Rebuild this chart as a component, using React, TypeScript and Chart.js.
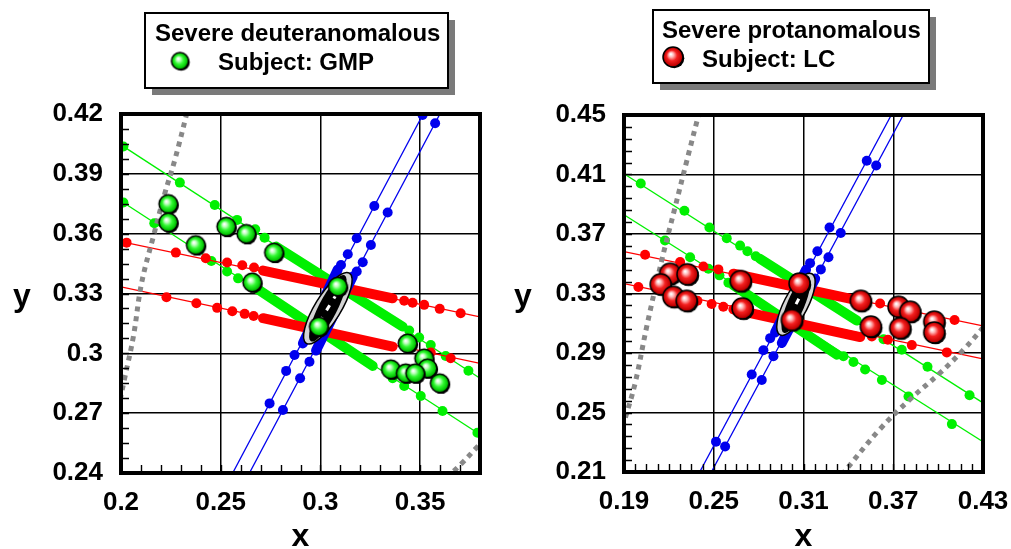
import React, { useEffect, useRef } from "react";
import { Chart, registerables } from "chart.js";

Chart.register(...registerables);

type P = [number, number];
const FONT = "'Liberation Sans', Arial, Helvetica, sans-serif";

// ================= LEFT PANEL: Severe deuteranomalous, Subject GMP =================
const L_xRange: P = [0.2, 0.38];
const L_yRange: P = [0.24, 0.42];
const L_xTicks = [0.2, 0.25, 0.3, 0.35];
const L_xLabels = ["0.2", "0.25", "0.3", "0.35"];
const L_yTicks = [0.24, 0.27, 0.3, 0.33, 0.36, 0.39, 0.42];
const L_yLabels = ["0.24", "0.27", "0.3", "0.33", "0.36", "0.39", "0.42"];

const L_subjectGMP: P[] = [
  [0.2237, 0.3749], [0.2237, 0.3657], [0.2375, 0.3543], [0.2528, 0.3635],
  [0.2628, 0.3599], [0.2767, 0.3505], [0.2658, 0.3356], [0.3087, 0.3335],
  [0.2992, 0.3134], [0.3437, 0.305], [0.352, 0.2975], [0.3537, 0.2925],
  [0.3353, 0.292], [0.3428, 0.29], [0.3475, 0.29], [0.3598, 0.285],
];

const L_deutan1Line: P[] = [[0.2, 0.4045], [0.38, 0.2875]];
const L_deutan1Band: P[] = [[0.2778, 0.3535], [0.3412, 0.3134]];
const L_deutan1Dots: P[] = [
  [0.2012, 0.4037], [0.2295, 0.3856], [0.247, 0.3744], [0.2582, 0.3669], [0.2673, 0.3622],
  [0.272, 0.358], [0.3445, 0.3114], [0.3495, 0.3079], [0.3553, 0.3042], [0.3628, 0.2987], [0.3742, 0.2913],
];
const L_deutan2Line: P[] = [[0.2, 0.3764], [0.38, 0.2593]];
const L_deutan2Band: P[] = [[0.2653, 0.3343], [0.3262, 0.2937]];
const L_deutan2Dots: P[] = [
  [0.2012, 0.3756], [0.2167, 0.3652], [0.2453, 0.3463], [0.2532, 0.341], [0.2587, 0.3376],
  [0.3362, 0.2875], [0.342, 0.2836], [0.3503, 0.2786], [0.3612, 0.2711], [0.3787, 0.2602],
];

const L_protan1Line: P[] = [[0.2, 0.356], [0.38, 0.3183]];
const L_protan1Band: P[] = [[0.2712, 0.3415], [0.3362, 0.3276]];
const L_protan1Dots: P[] = [
  [0.2028, 0.3555], [0.2275, 0.3505], [0.2425, 0.3477], [0.2532, 0.3455], [0.2608, 0.3442],
  [0.2667, 0.343], [0.342, 0.3264], [0.3462, 0.3254], [0.352, 0.3243], [0.3598, 0.3223], [0.3703, 0.3201],
];
const L_protan2Line: P[] = [[0.2, 0.3333], [0.38, 0.295]];
const L_protan2Band: P[] = [[0.2712, 0.3176], [0.3362, 0.3034]];
const L_protan2Dots: P[] = [
  [0.2228, 0.3281], [0.2378, 0.3251], [0.2482, 0.3228], [0.2558, 0.3211], [0.262, 0.3198],
  [0.2665, 0.3187], [0.3553, 0.3004], [0.3653, 0.2975],
];

const L_tritan1Line: P[] = [[0.256, 0.24], [0.3515, 0.42]];
const L_tritan1Band: P[] = [[0.3087, 0.3421], [0.2912, 0.305]];
const L_tritan1Dots: P[] = [
  [0.3512, 0.4195], [0.327, 0.3739], [0.3182, 0.3577], [0.3137, 0.3497], [0.3103, 0.3443],
  [0.287, 0.2992], [0.2828, 0.2912], [0.2745, 0.2749],
];
const L_tritan2Line: P[] = [[0.2644, 0.24], [0.3599, 0.42]];
const L_tritan2Band: P[] = [[0.3162, 0.3385], [0.2978, 0.3014]];
const L_tritan2Dots: P[] = [
  [0.3575, 0.4154], [0.3337, 0.3706], [0.3253, 0.3543], [0.3212, 0.3457], [0.3182, 0.341],
  [0.2945, 0.2958], [0.2898, 0.2875], [0.2812, 0.2716],
];

const L_boundaryA: P[] = [
  [0.2343, 0.4255], [0.227, 0.397], [0.222, 0.3803], [0.2162, 0.3585], [0.2103, 0.3351],
  [0.2062, 0.3084], [0.202, 0.2883], [0.1996, 0.277],
];
const L_boundaryB: P[] = [[0.3632, 0.2375], [0.3715, 0.2455], [0.3787, 0.2532], [0.3825, 0.257]];
const L_ellipseAxis: P[] = [[0.2929, 0.305], [0.3145, 0.3402]];

// ================= RIGHT PANEL: Severe protanomalous, Subject LC =================
const R_xRange: P = [0.19, 0.43];
const R_yRange: P = [0.21, 0.45];
const R_xTicks = [0.19, 0.25, 0.31, 0.37, 0.43];
const R_xLabels = ["0.19", "0.25", "0.31", "0.37", "0.43"];
const R_yTicks = [0.21, 0.25, 0.29, 0.33, 0.37, 0.41, 0.45];
const R_yLabels = ["0.21", "0.25", "0.29", "0.33", "0.37", "0.41", "0.45"];

const R_subjectLC: P[] = [
  [0.2208, 0.3433], [0.2324, 0.3429], [0.2145, 0.3362], [0.223, 0.3278], [0.2319, 0.3251],
  [0.268, 0.3384], [0.2692, 0.32], [0.3073, 0.3367], [0.3022, 0.3122], [0.3483, 0.3251],
  [0.355, 0.3078], [0.3735, 0.3211], [0.3813, 0.3178], [0.3746, 0.3067], [0.3974, 0.3111],
  [0.3974, 0.3038],
];

const R_deutan1Line: P[] = [[0.19, 0.4105], [0.43, 0.2565]];
const R_deutan1Band: P[] = [[0.281, 0.3533], [0.3456, 0.3118]];
const R_deutan1Dots: P[] = [
  [0.2012, 0.404], [0.2304, 0.3856], [0.2471, 0.3744], [0.2587, 0.3671], [0.2676, 0.3622],
  [0.2725, 0.3584], [0.2781, 0.3551], [0.3635, 0.2993], [0.3757, 0.2922], [0.3929, 0.2807], [0.421, 0.2616],
];
const R_deutan2Line: P[] = [[0.19, 0.3829], [0.43, 0.2303]];
const R_deutan2Band: P[] = [[0.2631, 0.3356], [0.3323, 0.2889]];
const R_deutan2Dots: P[] = [
  [0.2174, 0.3656], [0.2342, 0.3544], [0.2464, 0.3467], [0.2538, 0.3422], [0.2598, 0.3373],
  [0.3367, 0.2878], [0.3434, 0.284], [0.3512, 0.2789], [0.3624, 0.2718], [0.3802, 0.2607], [0.4092, 0.2422],
];

const R_protan1Line: P[] = [[0.19, 0.3582], [0.43, 0.3082]];
const R_protan1Band: P[] = [[0.2631, 0.3433], [0.3456, 0.3256]];
const R_protan1Dots: P[] = [
  [0.2041, 0.356], [0.2275, 0.3511], [0.2431, 0.3482], [0.2531, 0.3462],
  [0.3612, 0.3233], [0.3746, 0.3211], [0.411, 0.3122],
];
const R_protan2Line: P[] = [[0.19, 0.3367], [0.43, 0.286]];
const R_protan2Band: P[] = [[0.2631, 0.3193], [0.3479, 0.3007]];
const R_protan2Dots: P[] = [
  [0.1996, 0.3344], [0.2391, 0.3251], [0.2486, 0.3229], [0.2564, 0.3211],
  [0.3557, 0.3011], [0.3664, 0.2989], [0.3824, 0.2953], [0.4058, 0.2904],
];

const R_tritan1Line: P[] = [[0.2406, 0.21], [0.3687, 0.45]];
const R_tritan1Band: P[] = [[0.3117, 0.346], [0.291, 0.3038]];
const R_tritan1Dots: P[] = [
  [0.3523, 0.4193], [0.3274, 0.3744], [0.3193, 0.3584], [0.3144, 0.3504],
  [0.2877, 0.3], [0.2832, 0.2918], [0.2754, 0.2756], [0.2515, 0.2304],
];
const R_tritan2Line: P[] = [[0.2484, 0.21], [0.3767, 0.45]];
const R_tritan2Band: P[] = [[0.3178, 0.34], [0.2955, 0.2967]];
const R_tritan2Dots: P[] = [
  [0.3586, 0.416], [0.3349, 0.3707], [0.3267, 0.3544], [0.3216, 0.3462],
  [0.2899, 0.2878], [0.2821, 0.2718], [0.2576, 0.2271],
];

const R_boundaryA: P[] = [
  [0.2404, 0.4522], [0.2319, 0.4189], [0.2241, 0.3878], [0.2152, 0.3522], [0.2052, 0.3078],
  [0.1975, 0.27], [0.1905, 0.245], [0.1885, 0.238],
];
const R_boundaryB: P[] = [
  [0.3355, 0.208], [0.3612, 0.2389], [0.3813, 0.2589], [0.4014, 0.2767], [0.417, 0.2922], [0.4335, 0.311],
];
const R_ellipseAxis: P[] = [[0.2943, 0.3022], [0.3156, 0.3433]];

// ================= helpers =================
const GREEN = "#00f000";
const RED = "#ff0000";
const BLUE = "#0000ee";
const GRAY = "#888888";

const xy = (arr: P[]) => arr.map(([x, y]) => ({ x, y }));

function confusion(line: P[], band: P[], dots: P[], color: string, order: number) {
  return [
    { data: xy(line), showLine: true, borderColor: color, borderWidth: 1.3, pointRadius: 0, order, clip: 0 },
    { data: xy(band), showLine: true, borderColor: color, borderWidth: 10, borderCapStyle: "round", pointRadius: 0, order, clip: 0 },
    { data: xy(dots), showLine: false, pointRadius: 5, pointBackgroundColor: color, backgroundColor: color, pointBorderWidth: 0, borderWidth: 0, order, clip: 0 },
  ];
}

function boundary(data: P[]) {
  return { data: xy(data), showLine: true, borderColor: GRAY, borderWidth: 5, borderDash: [5, 5], tension: 0.4, pointRadius: 0, order: 1, clip: 0 };
}

function makeBall(r: number, stops: string[]) {
  const s = Math.ceil(2 * r + 6);
  const c = document.createElement("canvas");
  c.width = s;
  c.height = s;
  const g = c.getContext("2d") as CanvasRenderingContext2D;
  const cx = s / 2, cy = s / 2;
  g.beginPath();
  g.arc(cx + 1.3, cy + 1.3, r, 0, Math.PI * 2);
  g.fillStyle = "#000";
  g.fill();
  const grad = g.createRadialGradient(cx - r * 0.22, cy - r * 0.28, r * 0.05, cx, cy, r);
  grad.addColorStop(0, "#ffffff");
  grad.addColorStop(0.2, stops[0]);
  grad.addColorStop(0.5, stops[1]);
  grad.addColorStop(0.88, stops[2]);
  grad.addColorStop(1, stops[3]);
  g.beginPath();
  g.arc(cx, cy, r, 0, Math.PI * 2);
  g.fillStyle = grad;
  g.fill();
  g.lineWidth = 1.5;
  g.strokeStyle = "#000";
  g.stroke();
  return c;
}

function drawEllipse(chart: any, axis: P[], minorPx: number) {
  const { ctx } = chart;
  const xs = chart.scales.x, ys = chart.scales.y;
  const x1 = xs.getPixelForValue(axis[0][0]), y1 = ys.getPixelForValue(axis[0][1]);
  const x2 = xs.getPixelForValue(axis[1][0]), y2 = ys.getPixelForValue(axis[1][1]);
  const cx = (x1 + x2) / 2, cy = (y1 + y2) / 2;
  const a = Math.hypot(x2 - x1, y2 - y1) / 2;
  const ang = Math.atan2(y2 - y1, x2 - x1);
  ctx.save();
  ctx.beginPath();
  ctx.ellipse(cx, cy, a, minorPx, ang, 0, Math.PI * 2);
  ctx.fillStyle = "#d4d4d4";
  ctx.fill();
  ctx.lineWidth = 1.5;
  ctx.strokeStyle = "#000";
  ctx.stroke();
  ctx.beginPath();
  ctx.ellipse(cx, cy, a * 0.9, minorPx * 0.72, ang - 0.08, 0, Math.PI * 2);
  ctx.fillStyle = "#000";
  ctx.fill();
  const ux = Math.cos(ang), uy = Math.sin(ang);
  ctx.strokeStyle = "#fff";
  ctx.lineWidth = 3;
  ctx.setLineDash([6, 8]);
  ctx.beginPath();
  ctx.moveTo(cx - ux * a * 0.4, cy - uy * a * 0.4);
  ctx.lineTo(cx + ux * a * 0.4, cy + uy * a * 0.4);
  ctx.stroke();
  ctx.restore();
}

type Legend = {
  x: number; y: number; w: number; h: number;
  title: string; titleX: number; titleY: number;
  label: string; labelX: number; labelY: number;
  ballX: number; ballY: number;
};

function decorPlugin(o: {
  ballIndex: number; ellipse: P[]; ellipseMinor: number;
  xMinor: number; yMinor: number; legend: Legend; ball: HTMLCanvasElement;
  xTitleY: number; yTitleX: number; yTitleY: number;
}) {
  return {
    id: "decor",
    beforeDatasetDraw(chart: any, args: any) {
      if (args.index === o.ballIndex) drawEllipse(chart, o.ellipse, o.ellipseMinor);
    },
    afterDatasetsDraw(chart: any) {
      const { ctx, chartArea: a } = chart;
      const xs = chart.scales.x, ys = chart.scales.y;
      ctx.save();
      ctx.strokeStyle = "#000";
      ctx.lineWidth = 1.4;
      ctx.beginPath();
      const nx = Math.round((xs.max - xs.min) / o.xMinor);
      for (let i = 1; i < nx; i++) {
        const px = Math.round(xs.getPixelForValue(xs.min + i * o.xMinor)) + 0.5;
        ctx.moveTo(px, a.bottom);
        ctx.lineTo(px, a.bottom - 8);
      }
      const ny = Math.round((ys.max - ys.min) / o.yMinor);
      for (let i = 1; i < ny; i++) {
        const py = Math.round(ys.getPixelForValue(ys.min + i * o.yMinor)) + 0.5;
        ctx.moveTo(a.left, py);
        ctx.lineTo(a.left + 8, py);
      }
      ctx.stroke();
      ctx.lineWidth = 4;
      ctx.strokeRect(a.left, a.top, a.right - a.left, a.bottom - a.top);

      // axis titles
      ctx.fillStyle = "#000";
      ctx.font = `bold 32px ${FONT}`;
      ctx.textAlign = "center";
      ctx.textBaseline = "alphabetic";
      ctx.fillText("x", (a.left + a.right) / 2, o.xTitleY);
      ctx.fillText("y", o.yTitleX, o.yTitleY);

      // legend box
      const L = o.legend;
      ctx.fillStyle = "#7a7a7a";
      ctx.fillRect(L.x + 7, L.y + 7, L.w, L.h);
      ctx.fillStyle = "#fff";
      ctx.fillRect(L.x, L.y, L.w, L.h);
      ctx.lineWidth = 2;
      ctx.strokeStyle = "#000";
      ctx.strokeRect(L.x, L.y, L.w, L.h);
      ctx.fillStyle = "#000";
      ctx.font = `bold 24px ${FONT}`;
      ctx.textAlign = "left";
      ctx.fillText(L.title, L.titleX, L.titleY);
      ctx.fillText(L.label, L.labelX, L.labelY);
      ctx.drawImage(o.ball, L.ballX - o.ball.width / 2, L.ballY - o.ball.height / 2);
      ctx.restore();
    },
  };
}

function scalesCfg(xRange: P, yRange: P, xTicks: number[], xLabels: string[], yTicks: number[], yLabels: string[], yWidth: number, xHeight: number) {
  const tickFont = { family: FONT, size: 26, weight: "bold" as const };
  const zeroPad = (s: any) => { s.paddingLeft = 0; s.paddingRight = 0; s.paddingTop = 0; s.paddingBottom = 0; };
  return {
    x: {
      type: "linear" as const,
      min: xRange[0],
      max: xRange[1],
      afterBuildTicks: (s: any) => { s.ticks = xTicks.map((v) => ({ value: v })); },
      afterFit: (s: any) => { s.height = xHeight; zeroPad(s); },
      ticks: { callback: (_v: any, i: number) => xLabels[i], font: tickFont, color: "#000", padding: 14, maxRotation: 0, autoSkip: false },
      grid: { color: "#000", lineWidth: 1.5, drawTicks: false },
      border: { display: false },
    },
    y: {
      type: "linear" as const,
      min: yRange[0],
      max: yRange[1],
      afterBuildTicks: (s: any) => { s.ticks = yTicks.map((v) => ({ value: v })); },
      afterFit: (s: any) => { s.width = yWidth; zeroPad(s); },
      ticks: { callback: (_v: any, i: number) => yLabels[i], font: tickFont, color: "#000", padding: 18, autoSkip: false },
      grid: { color: "#000", lineWidth: 1.5, drawTicks: false },
      border: { display: false },
    },
  };
}

export default function App() {
  const leftRef = useRef<HTMLCanvasElement>(null);
  const rightRef = useRef<HTMLCanvasElement>(null);

  useEffect(() => {
    const greenStops = ["#c0ffc0", "#30f830", "#00c000", "#005800"];
    const redStops = ["#ffb8b8", "#f42020", "#c00000", "#580000"];
    const greenBall = makeBall(9.3, greenStops);
    const redBall = makeBall(10.5, redStops);
    const greenLegendBall = makeBall(8.5, greenStops);
    const redLegendBall = makeBall(10, redStops);

    const leftSets: any[] = [
      ...confusion(L_deutan1Line, L_deutan1Band, L_deutan1Dots, GREEN, 5),
      ...confusion(L_deutan2Line, L_deutan2Band, L_deutan2Dots, GREEN, 5),
      ...confusion(L_protan1Line, L_protan1Band, L_protan1Dots, RED, 4),
      ...confusion(L_protan2Line, L_protan2Band, L_protan2Dots, RED, 4),
      ...confusion(L_tritan1Line, L_tritan1Band, L_tritan1Dots, BLUE, 3),
      ...confusion(L_tritan2Line, L_tritan2Band, L_tritan2Dots, BLUE, 3),
      boundary(L_boundaryA),
      boundary(L_boundaryB),
      { data: xy(L_subjectGMP), showLine: false, pointStyle: greenBall, pointRadius: 9, order: 0, clip: 0 },
    ];
    const rightSets: any[] = [
      ...confusion(R_deutan1Line, R_deutan1Band, R_deutan1Dots, GREEN, 5),
      ...confusion(R_deutan2Line, R_deutan2Band, R_deutan2Dots, GREEN, 5),
      ...confusion(R_protan1Line, R_protan1Band, R_protan1Dots, RED, 4),
      ...confusion(R_protan2Line, R_protan2Band, R_protan2Dots, RED, 4),
      ...confusion(R_tritan1Line, R_tritan1Band, R_tritan1Dots, BLUE, 3),
      ...confusion(R_tritan2Line, R_tritan2Band, R_tritan2Dots, BLUE, 3),
      boundary(R_boundaryA),
      boundary(R_boundaryB),
      { data: xy(R_subjectLC), showLine: false, pointStyle: redBall, pointRadius: 10, order: 0, clip: 0 },
    ];

    const common = {
      responsive: false,
      animation: false as const,
      events: [] as any[],
      plugins: { legend: { display: false }, tooltip: { enabled: false } },
    };

    const c1 = new Chart(leftRef.current as HTMLCanvasElement, {
      type: "scatter",
      data: { datasets: leftSets },
      options: {
        ...common,
        layout: { padding: { left: 0, right: 25, top: 114, bottom: 0 } },
        scales: scalesCfg(L_xRange, L_yRange, L_xTicks, L_xLabels, L_yTicks, L_yLabels, 121, 76),
      } as any,
      plugins: [
        decorPlugin({
          ballIndex: leftSets.length - 1, ellipse: L_ellipseAxis, ellipseMinor: 13,
          xMinor: 0.01, yMinor: 0.0075, ball: greenLegendBall,
          xTitleY: 546, yTitleX: 22, yTitleY: 306,
          legend: {
            x: 145, y: 13, w: 303, h: 75,
            title: "Severe deuteranomalous", titleX: 155, titleY: 41,
            label: "Subject: GMP", labelX: 218, labelY: 70,
            ballX: 180, ballY: 61,
          },
        }),
      ],
    });

    const c2 = new Chart(rightRef.current as HTMLCanvasElement, {
      type: "scatter",
      data: { datasets: rightSets },
      options: {
        ...common,
        layout: { padding: { left: 0, right: 28, top: 115, bottom: 0 } },
        scales: scalesCfg(R_xRange, R_yRange, R_xTicks, R_xLabels, R_yTicks, R_yLabels, 119, 77),
      } as any,
      plugins: [
        decorPlugin({
          ballIndex: rightSets.length - 1, ellipse: R_ellipseAxis, ellipseMinor: 12,
          xMinor: 0.0075, yMinor: 0.008, ball: redLegendBall,
          xTitleY: 546, yTitleX: 18, yTitleY: 306,
          legend: {
            x: 148, y: 10, w: 276, h: 73,
            title: "Severe protanomalous", titleX: 157, titleY: 38,
            label: "Subject: LC", labelX: 197, labelY: 67,
            ballX: 168, ballY: 57,
          },
        }),
      ],
    });

    return () => {
      c1.destroy();
      c2.destroy();
    };
  }, []);

  return (
    <div style={{ position: "absolute", left: 0, top: 0, width: 1011, height: 549, background: "#fff", overflow: "hidden" }}>
      <canvas ref={leftRef} width={505} height={549} style={{ position: "absolute", left: 0, top: 0 }} />
      <canvas ref={rightRef} width={506} height={549} style={{ position: "absolute", left: 505, top: 0 }} />
    </div>
  );
}
